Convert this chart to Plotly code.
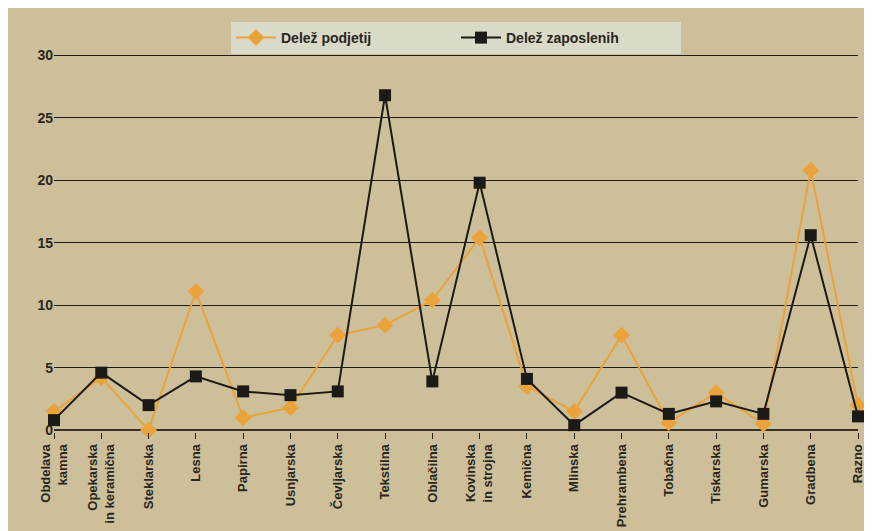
import plotly.graph_objects as go

categories = ["Obdelava<br>kamna", "Opekarska<br>in keramična", "Steklarska", "Lesna", "Papirna",
              "Usnjarska", "Čevljarska", "Tekstilna", "Oblačilna", "Kovinska<br>in strojna",
              "Kemična", "Mlinska", "Prehrambena", "Tobačna", "Tiskarska", "Gumarska",
              "Gradbena", "Razno"]
delez_podjetij = [1.5, 4.2, 0.0, 11.1, 1.0, 1.8, 7.6, 8.4, 10.4, 15.4, 3.5, 1.5, 7.6, 0.6, 3.0, 0.5, 20.8, 2.0]
delez_zaposlenih = [0.8, 4.6, 2.0, 4.3, 3.1, 2.8, 3.1, 26.8, 3.9, 19.8, 4.1, 0.4, 3.0, 1.3, 2.3, 1.3, 15.6, 1.1]
y_ticks = [0, 5, 10, 15, 20, 25, 30]

fig = go.Figure()
fig.add_trace(go.Scatter(
    x=list(range(len(categories))), y=delez_podjetij, name="Delež podjetij",
    mode="lines+markers", line=dict(color="#eaa33a", width=2),
    marker=dict(symbol="diamond", size=13, color="#eaa33a"), cliponaxis=False))
fig.add_trace(go.Scatter(
    x=list(range(len(categories))), y=delez_zaposlenih, name="Delež zaposlenih",
    mode="lines+markers", line=dict(color="#1c1a16", width=2),
    marker=dict(symbol="square", size=12, color="#1c1a16"), cliponaxis=False))

bold = dict(family="Liberation Sans, Arial", weight="bold", color="#2a2620")

fig.update_layout(
    width=872, height=531,
    paper_bgcolor="#cdbf99", plot_bgcolor="#cdbf99",
    margin=dict(l=46, r=22, t=46, b=95),
    font=dict(family="Liberation Sans, Arial", color="#2a2620", size=13),
    showlegend=True,
    legend=dict(orientation="h", x=0.5, xanchor="center", y=1.0, yanchor="bottom",
                bgcolor="#d9dac8", font=dict(size=14, **bold),
                itemwidth=40, entrywidth=170, borderwidth=0),
    xaxis=dict(
        tickmode="array", tickvals=list(range(len(categories))), ticktext=categories,
        tickangle=-90, range=[0, len(categories) - 1], showgrid=False,
        showline=False, zeroline=False, ticks="outside", ticklen=6, tickcolor="#2a2620",
        tickfont=dict(size=13, **bold),
    ),
    yaxis=dict(
        tickmode="array", tickvals=y_ticks, range=[-0.15, 30.1],
        showgrid=True, gridcolor="#1f1c18", gridwidth=1.3,
        zeroline=True, zerolinecolor="#3a3026", zerolinewidth=2,
        showline=False, ticks="", tickfont=dict(size=14, **bold),
    ),
)
fig.write_html("out.html")
